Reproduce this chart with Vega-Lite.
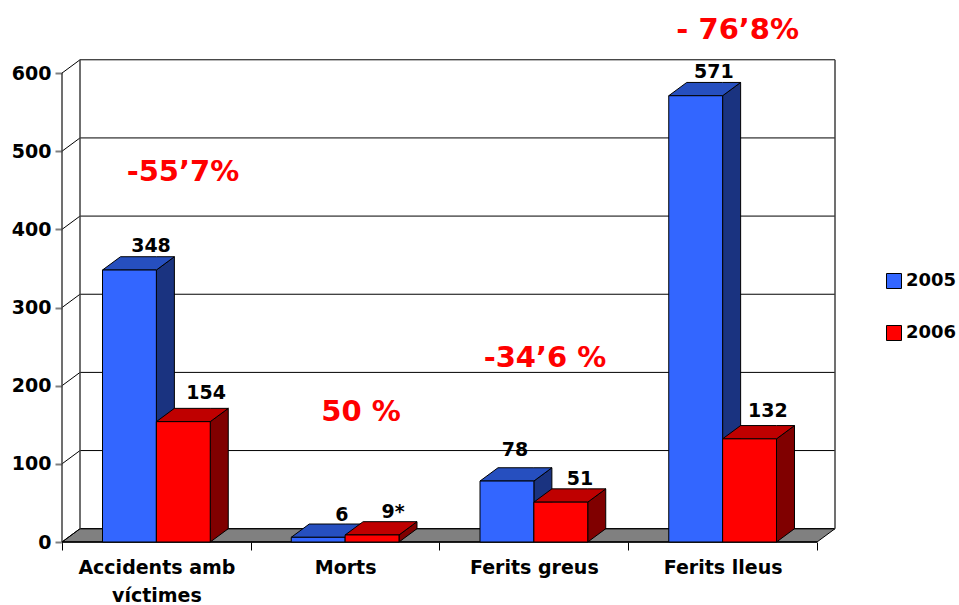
{
"$schema":"https://vega.github.io/schema/vega-lite/v6.json",
"width":773,"height":483,
"autosize":{"type":"none"},
"padding":{"left":62,"top":59,"right":124,"bottom":63},
"background":"white",
"config":{"view":{"stroke":null},"axis":{"grid":false},"text":{"font":"DejaVu Sans","fontWeight":"bold"}},
"datasets":{
"bars":[
{"category":"Accidents amb víctimes","series":"2005","value":348},
{"category":"Accidents amb víctimes","series":"2006","value":154},
{"category":"Morts","series":"2005","value":6},
{"category":"Morts","series":"2006","value":9},
{"category":"Ferits greus","series":"2005","value":78},
{"category":"Ferits greus","series":"2006","value":51},
{"category":"Ferits lleus","series":"2005","value":571},
{"category":"Ferits lleus","series":"2006","value":132}
],
"levels":[{"level":0},{"level":100},{"level":200},{"level":300},{"level":400},{"level":500},{"level":600}],
"valueLabels":[
{"text":"348","at":0.4715,"height":379},
{"text":"154","at":0.763,"height":191},
{"text":"6","at":1.483,"height":35},
{"text":"9*","at":1.754,"height":38},
{"text":"78","at":2.4,"height":118},
{"text":"51","at":2.744,"height":81},
{"text":"571","at":3.454,"height":602},
{"text":"132","at":3.74,"height":168}
],
"changes":[
{"text":"-55’7%","at":0.641,"height":473},
{"text":"50 %","at":1.584,"height":166},
{"text":"-34’6 %","at":2.559,"height":235},
{"text":"- 76’8%","at":3.58,"height":655}
]
},
"resolve":{"scale":{"fill":"independent"}},
"layer":[
{
"data":{"name":"levels"},
"transform":[{"filter":"datum.level==0"},{"calculate":"[0,0.0954,4,4.0954]","as":"px"},{"calculate":"[[0,0],[17,0],[17,0],[17,17]]","as":"py"},{"calculate":"[0,1,2,3]","as":"t"},{"flatten":["t"]},{"calculate":"datum.px[datum.t]","as":"x"},{"calculate":"datum.py[datum.t][0]","as":"up"},{"calculate":"datum.py[datum.t][1]","as":"low"}],
"mark":{"type":"area","orient":"vertical","fill":"#808080","stroke":"#000000","strokeWidth":1},
"encoding":{
"x":{"field":"x","type":"quantitative","scale":{"domain":[0,4.0954],"nice":false,"zero":false},
"axis":{"orient":"bottom","title":null,"domain":false,"grid":false,"values":[0,0.5,1,1.5,2,2.5,3,3.5,4],"tickSize":8,"tickColor":"#000000","tickOpacity":{"condition":{"test":"datum.value%1==0","value":1},"value":0},"labelExpr":"datum.value==0.5?['Accidents amb','víctimes']:datum.value==1.5?'Morts':datum.value==2.5?'Ferits greus':datum.value==3.5?'Ferits lleus':''","labelFont":"DejaVu Sans","labelFontWeight":"bold","labelFontSize":19,"labelColor":"#000000","labelPadding":8,"labelLineHeight":28,"labelOverlap":false,"labelBound":false,"labelFlush":false}},
"y":{"field":"up","type":"quantitative","stack":null,"scale":{"domain":[0,618],"nice":false,"zero":false},
"axis":{"orient":"left","title":null,"domain":false,"grid":false,"values":[0,100,200,300,400,500,600],"tickSize":7,"tickColor":"#808080","tickWidth":2,"labelFont":"DejaVu Sans","labelFontWeight":"bold","labelFontSize":19,"labelColor":"#000000","labelPadding":4,"labelOverlap":false,"labelBound":false}},
"y2":{"field":"low"}
}
},
{
"data":{"name":"levels"},
"transform":[{"calculate":"datum.level+17","as":"y"},{"calculate":"0.0954","as":"x"},{"calculate":"4.0954","as":"x2"}],
"mark":{"type":"rule","color":"#000000","strokeWidth":1},
"encoding":{
"x":{"field":"x","type":"quantitative","scale":{"domain":[0,4.0954],"nice":false,"zero":false},"axis":{"title":null}},
"x2":{"field":"x2"},
"y":{"field":"y","type":"quantitative","scale":{"domain":[0,618],"nice":false,"zero":false},"axis":{"title":null}}
}
},
{
"data":{"name":"levels"},
"transform":[{"calculate":"[0,1]","as":"t"},{"flatten":["t"]},{"calculate":"datum.t*0.0954","as":"x"},{"calculate":"datum.level+datum.t*17","as":"y"}],
"mark":{"type":"line","color":"#000000","strokeWidth":1},
"encoding":{
"x":{"field":"x","type":"quantitative","scale":{"domain":[0,4.0954],"nice":false,"zero":false},"axis":{"title":null}},
"y":{"field":"y","type":"quantitative","scale":{"domain":[0,618],"nice":false,"zero":false},"axis":{"title":null}},
"detail":{"field":"level"}
}
},
{
"data":{"name":"levels"},
"transform":[{"filter":"datum.level==600"},{"calculate":"[[0,0,600],[0.0954,17,617],[4.0954,17,617]]","as":"edges"},{"flatten":["edges"]},{"calculate":"datum.edges[0]","as":"x"},{"calculate":"datum.edges[1]","as":"y"},{"calculate":"datum.edges[2]","as":"y2"}],
"mark":{"type":"rule","color":"#404040","strokeWidth":1.5},
"encoding":{
"x":{"field":"x","type":"quantitative","scale":{"domain":[0,4.0954],"nice":false,"zero":false},"axis":{"title":null}},
"y":{"field":"y","type":"quantitative","scale":{"domain":[0,618],"nice":false,"zero":false},"axis":{"title":null}},
"y2":{"field":"y2"}
}
},
{
"data":{"name":"levels"},
"transform":[{"filter":"datum.level==0"},{"calculate":"0","as":"x"},{"calculate":"4","as":"x2"}],
"mark":{"type":"rule","color":"#000000","strokeWidth":1.5},
"encoding":{
"x":{"field":"x","type":"quantitative","scale":{"domain":[0,4.0954],"nice":false,"zero":false},"axis":{"title":null}},
"x2":{"field":"x2"},
"y":{"field":"level","type":"quantitative","scale":{"domain":[0,618],"nice":false,"zero":false},"axis":{"title":null}}
}
},
{
"data":{"name":"bars"},
"transform":[
{"calculate":"indexof(['Accidents amb víctimes','Morts','Ferits greus','Ferits lleus'],datum.category)+(datum.series=='2005'?0.5:0.7854)","as":"xr"},
{"calculate":"[0,1]","as":"t"},{"flatten":["t"]},
{"calculate":"datum.xr+datum.t*0.0954","as":"x"},
{"calculate":"datum.value+datum.t*17","as":"up"},
{"calculate":"datum.t*17","as":"low"},
{"calculate":"datum.category+datum.series","as":"key"}
],
"mark":{"type":"area","orient":"vertical","stroke":"#000000","strokeWidth":1},
"encoding":{
"x":{"field":"x","type":"quantitative","scale":{"domain":[0,4.0954],"nice":false,"zero":false},"axis":{"title":null}},
"y":{"field":"up","type":"quantitative","stack":null,"scale":{"domain":[0,618],"nice":false,"zero":false},"axis":{"title":null}},
"y2":{"field":"low"},
"detail":{"field":"key"},
"fill":{"field":"series","type":"nominal","scale":{"domain":["2005","2006"],"range":["#1A3380","#800000"]},"legend":null}
}
},
{
"data":{"name":"bars"},
"transform":[
{"calculate":"indexof(['Accidents amb víctimes','Morts','Ferits greus','Ferits lleus'],datum.category)+(datum.series=='2005'?0.2146:0.5)","as":"xl"},
{"calculate":"datum.xl+0.2854","as":"xr"},
{"calculate":"[0,1,2,3]","as":"t"},{"flatten":["t"]},
{"calculate":"[datum.xl,datum.xl+0.0954,datum.xr,datum.xr+0.0954][datum.t]","as":"x"},
{"calculate":"datum.value+(datum.t==0?0:17)","as":"up"},
{"calculate":"datum.value+(datum.t==3?17:0)","as":"low"},
{"calculate":"datum.category+datum.series","as":"key"}
],
"mark":{"type":"area","orient":"vertical","stroke":"#000000","strokeWidth":1},
"encoding":{
"x":{"field":"x","type":"quantitative","scale":{"domain":[0,4.0954],"nice":false,"zero":false},"axis":{"title":null}},
"y":{"field":"up","type":"quantitative","stack":null,"scale":{"domain":[0,618],"nice":false,"zero":false},"axis":{"title":null}},
"y2":{"field":"low"},
"detail":{"field":"key"},
"fill":{"field":"series","type":"nominal","scale":{"domain":["2005","2006"],"range":["#264FBF","#BF0000"]},"legend":null}
}
},
{
"data":{"name":"bars"},
"transform":[
{"calculate":"indexof(['Accidents amb víctimes','Morts','Ferits greus','Ferits lleus'],datum.category)+(datum.series=='2005'?0.2146:0.5)","as":"xl"},
{"calculate":"datum.xl+0.2854","as":"xr"},
{"calculate":"0","as":"base"}
],
"mark":{"type":"bar","stroke":"#000000","strokeWidth":1},
"encoding":{
"x":{"field":"xl","type":"quantitative","scale":{"domain":[0,4.0954],"nice":false,"zero":false},"axis":{"title":null}},
"x2":{"field":"xr"},
"y":{"field":"value","type":"quantitative","stack":null,"scale":{"domain":[0,618],"nice":false,"zero":false},"axis":{"title":null}},
"y2":{"field":"base"},
"fill":{"field":"series","type":"nominal","scale":{"domain":["2005","2006"],"range":["#3366FF","#FF0000"]},
"legend":{"orient":"none","legendX":823,"legendY":213,"title":null,"symbolType":"square","symbolSize":225,"symbolStrokeColor":"#000000","symbolStrokeWidth":1,"symbolOpacity":1,"labelFont":"DejaVu Sans","labelFontWeight":"bold","labelFontSize":18,"labelColor":"#000000","labelOffset":3,"rowPadding":32,"labelLimit":80}}
}
},
{
"data":{"name":"valueLabels"},
"mark":{"type":"text","fontSize":19,"color":"#000000","align":"center","baseline":"middle"},
"encoding":{
"x":{"field":"at","type":"quantitative","scale":{"domain":[0,4.0954],"nice":false,"zero":false},"axis":{"title":null}},
"y":{"field":"height","type":"quantitative","scale":{"domain":[0,618],"nice":false,"zero":false},"axis":{"title":null}},
"text":{"field":"text"}
}
},
{
"data":{"name":"changes"},
"mark":{"type":"text","fontSize":29,"color":"#FF0000","align":"center","baseline":"middle"},
"encoding":{
"x":{"field":"at","type":"quantitative","scale":{"domain":[0,4.0954],"nice":false,"zero":false},"axis":{"title":null}},
"y":{"field":"height","type":"quantitative","scale":{"domain":[0,618],"nice":false,"zero":false},"axis":{"title":null}},
"text":{"field":"text"}
}
}
]
}
